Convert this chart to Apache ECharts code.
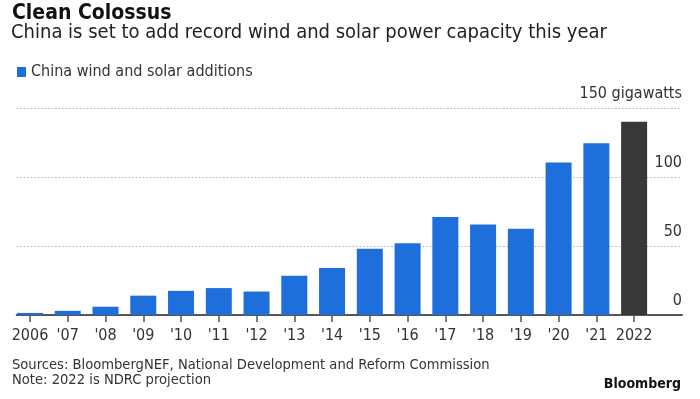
<!DOCTYPE html>
<html>
<head>
<meta charset="utf-8">
<script src="https://cdn.jsdelivr.net/npm/echarts@6/dist/echarts.min.js"></script>
<style>
html,body{margin:0;padding:0;background:#fff;}
#chart{width:700px;height:399px;}
</style>
</head>
<body>
<div id="chart"></div>
<script>
var categories = ['2006', "'07", "'08", "'09", "'10", "'11", "'12", "'13", "'14", "'15", "'16", "'17", "'18", "'19", "'20", "'21", '2022'];
var additions = [1.5, 3, 6, 14, 17.5, 19.5, 17, 28.5, 34, 48, 52, 71, 65.5, 62.5, 110.5, 124.5, 140];
var projectedIndex = 16;
var yTicks = [0, 50, 100, 150];
var seriesName = 'China wind and solar additions';
var titleText = 'Clean Colossus';
var subtitleText = 'China is set to add record wind and solar power capacity this year';
var sourceText = 'Sources: BloombergNEF, National Development and Reform Commission';
var noteText = 'Note: 2022 is NDRC projection';
var brandText = 'Bloomberg';

var FONT = 'DejaVu Sans Condensed';
var yMax = yTicks[yTicks.length - 1];
var chart = echarts.init(document.getElementById('chart'));
chart.setOption({
  animation: false,
  textStyle: {fontFamily: FONT},
  title: [
    {text: titleText, left: 7, top: -1.5, textStyle: {fontFamily: FONT, fontSize: 21, fontWeight: 'bold', color: '#111'}},
    {text: subtitleText, left: 6, top: 18, textStyle: {fontFamily: FONT, fontSize: 20, fontWeight: 'normal', color: '#222'}},
    {text: sourceText, left: 7, top: 353, textStyle: {fontFamily: FONT, fontSize: 14.6, fontWeight: 'normal', color: '#333'}},
    {text: noteText, left: 7, top: 368, textStyle: {fontFamily: FONT, fontSize: 14.6, fontWeight: 'normal', color: '#333'}},
    {text: brandText, right: 14, top: 372, textStyle: {fontFamily: FONT, fontSize: 14, fontWeight: 'bold', color: '#111'}}
  ],
  legend: {
    left: 12, top: 59, icon: 'rect', itemWidth: 9, itemHeight: 10, itemGap: 6,
    textStyle: {fontFamily: FONT, fontSize: 16, color: '#333'},
    data: [{name: seriesName, itemStyle: {color: '#1e6fdc'}}]
  },
  grid: [
    {left: 11.12, right: 47, top: 108, bottom: 84, containLabel: false},
    {left: 16.7, right: 18, top: 108, bottom: 84, containLabel: false}
  ],
  xAxis: [
    {
      type: 'category', gridIndex: 0, data: categories, boundaryGap: true,
      axisLine: {show: true, lineStyle: {color: '#555', width: 0, opacity: 0}},
      axisTick: {show: true, alignWithLabel: true, interval: 0, length: 7, lineStyle: {color: '#555', width: 1.5, opacity: 1}},
      axisLabel: {margin: 13, fontSize: 16, color: '#333', fontFamily: FONT, interval: 0},
      splitLine: {show: false}
    },
    {
      type: 'value', gridIndex: 1, min: 0, max: 1,
      axisLine: {show: true, onZero: false, lineStyle: {color: '#555', width: 2}},
      axisTick: {show: false}, axisLabel: {show: false}, splitLine: {show: false}
    }
  ],
  yAxis: [
    {
      type: 'value', gridIndex: 0, min: 0, max: yMax, interval: 50,
      axisLine: {show: false}, axisTick: {show: false}, axisLabel: {show: false},
      splitLine: {show: false}
    },
    {
      type: 'value', gridIndex: 1, position: 'right', min: 0, max: yMax, interval: 50,
      axisLine: {show: false}, axisTick: {show: false},
      axisLabel: {inside: true, margin: 0, fontSize: 16, color: '#333', fontFamily: FONT,
        verticalAlign: 'bottom', padding: [0, 0, 6, 0],
        formatter: function(v){ return v === yMax ? v + ' gigawatts' : String(v); }},
      splitLine: {show: true, lineStyle: {color: '#b0b0b0', type: [1.5, 2], width: 1}}
    }
  ],
  series: [{
    name: seriesName, type: 'bar', barWidth: 26, xAxisIndex: 0, yAxisIndex: 0,
    data: additions,
    itemStyle: {color: function(p){ return p.dataIndex === projectedIndex ? '#383838' : '#1e6fdc'; }}
  }]
});
</script>
</body>
</html>
